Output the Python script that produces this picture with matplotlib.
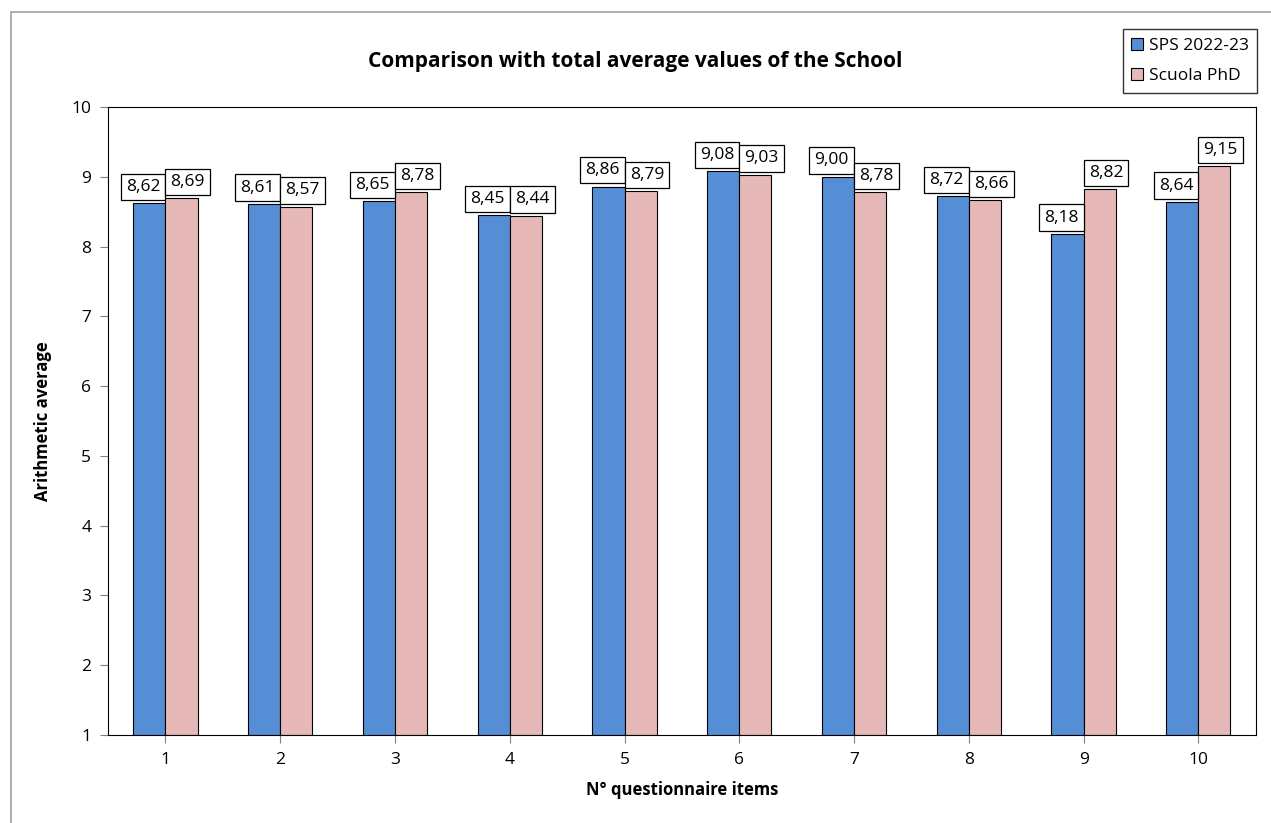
import numpy as np
import matplotlib.pyplot as plt
from matplotlib.patches import Rectangle

plt.rcParams['font.family'] = ['Open Sans', 'DejaVu Sans']

items = list(range(1, 11))
sps = [8.62, 8.61, 8.65, 8.45, 8.86, 9.08, 9.00, 8.72, 8.18, 8.64]
phd = [8.69, 8.57, 8.78, 8.44, 8.79, 9.03, 8.78, 8.66, 8.82, 9.15]

fig = plt.figure(figsize=(12.71, 8.23), dpi=100)
fig.patches.append(Rectangle((0.009, -0.01), 1.0, 0.996, transform=fig.transFigure,
                             fill=False, edgecolor='#a0a0a0', lw=1.2))
ax = fig.add_axes([0.085, 0.107, 0.903, 0.763])

x = np.arange(len(items))
w = 0.28
b1 = ax.bar(x - w/2, np.array(sps) - 1, w, bottom=1, color='#558ed5', edgecolor='black', lw=0.8, label='SPS 2022-23')
b2 = ax.bar(x + w/2, np.array(phd) - 1, w, bottom=1, color='#e6b9b8', edgecolor='black', lw=0.8, label='Scuola PhD')

box = dict(boxstyle='square,pad=0.3', fc='white', ec='black', lw=0.9)
for xs, vals, off in [(x - w/2, sps, -0.055), (x + w/2, phd, 0.055)]:
    for xi, v in zip(xs, vals):
        ax.text(xi + off, v + 0.12, f'{v:.2f}'.replace('.', ','), ha='center', va='bottom',
                fontsize=12.5, bbox=box)

ax.set_xlim(-0.5, len(items) - 0.5)
ax.set_ylim(1, 10)
ax.set_yticks(range(1, 11))
ax.set_xticks(x)
ax.set_xticklabels([str(i) for i in items])
ax.tick_params(labelsize=12.5, color='#808080', direction='out', length=6, pad=6)
for s in ax.spines.values():
    s.set_color('black')
    s.set_linewidth(0.8)
ax.set_ylabel('Arithmetic average', fontsize=12, fontweight='bold', labelpad=14)
ax.set_xlabel('N° questionnaire items', fontsize=12, fontweight='bold', labelpad=10)
fig.text(0.5, 0.925, 'Comparison with total average values of the School', ha='center',
         va='center', fontsize=15, fontweight='bold')

leg = fig.legend(handles=[b1, b2], loc='upper right', bbox_to_anchor=(0.996, 0.975),
                 fontsize=12.5, frameon=True, fancybox=False, edgecolor='black',
                 handlelength=0.7, handleheight=0.7, handletextpad=0.3, labelspacing=0.8,
                 borderpad=0.5)
leg.get_frame().set_linewidth(1.0)

fig.savefig('out.png', dpi=100)
